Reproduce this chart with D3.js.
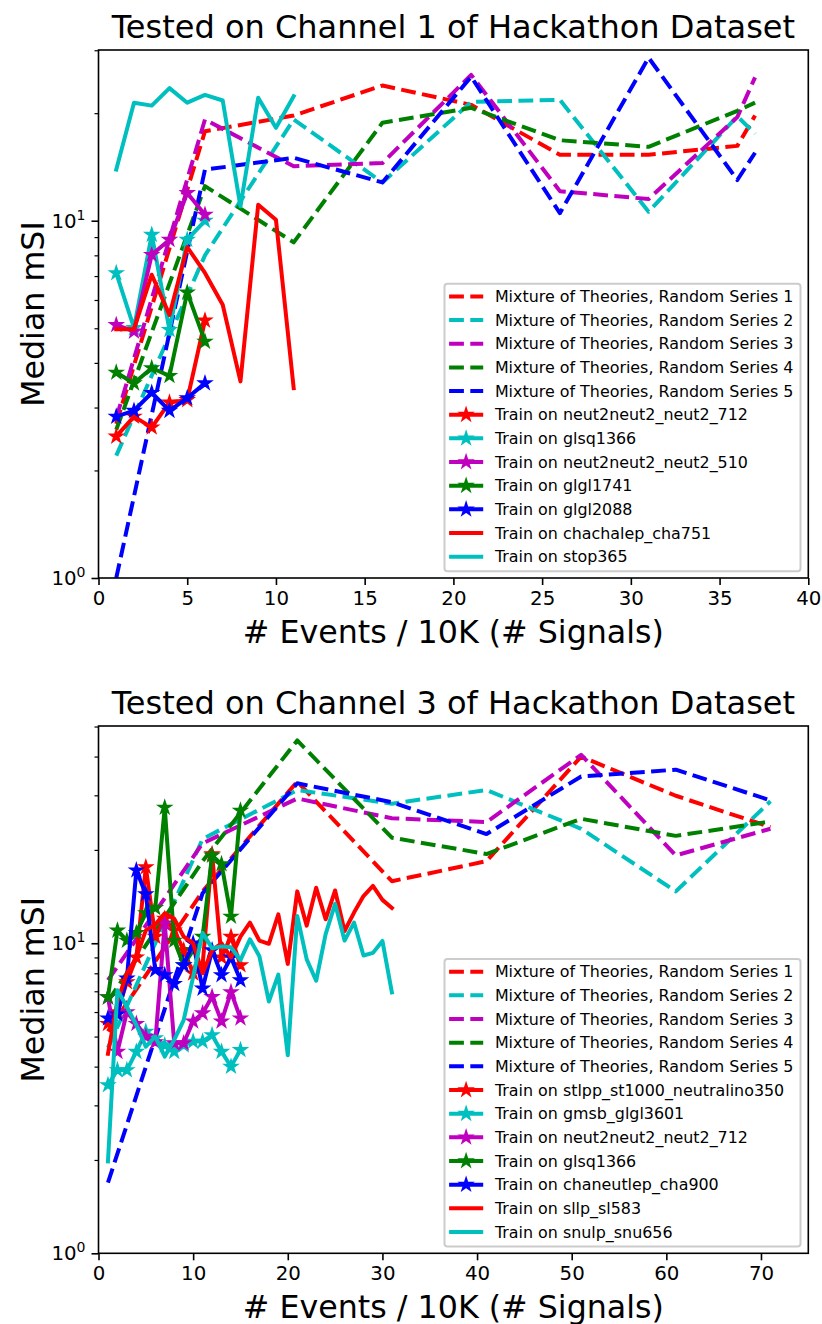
<!DOCTYPE html>
<html><head><meta charset="utf-8">
<script src="https://cdn.jsdelivr.net/npm/d3@7"></script>
<style>body{margin:0;background:#fff} svg{display:block} text{font-family:"DejaVu Sans",sans-serif;fill:#000}</style>
</head><body><svg id="c" width="822" height="1324"></svg>
<script>
// ---------------- Panel 1 data ----------------
const p1Title = "Tested on Channel 1 of Hackathon Dataset";
const p1XTicks = [0, 5, 10, 15, 20, 25, 30, 35, 40];
const p1MixX = [1, 6, 11, 16, 21, 26, 31, 36, 37];
const p1Mix1 = [2.7, 17.8, 19.7, 23.9, 21.1, 15.3, 15.3, 16.2, 19.7];
const p1Mix2 = [2.2, 8.0, 19.2, 12.8, 21.5, 21.8, 10.6, 19.6, 17.5];
const p1Mix3 = [2.8, 19.2, 14.2, 14.5, 25.6, 12.1, 11.5, 19.5, 25.2];
const p1Mix4 = [2.6, 12.5, 8.7, 18.8, 20.7, 16.8, 16.1, 20.3, 21.4];
const p1Mix5 = [1.0, 13.9, 15.0, 12.8, 25.3, 10.5, 28.6, 13.0, 15.5];
const p1StarX = [1, 2, 3, 4, 5, 6];
const p1Neut712 = [2.49, 2.83, 2.64, 3.10, 3.15, 5.26];
const p1Glsq1366 = [7.14, 5.01, 9.14, 4.95, 8.85, 10.0];
const p1Neut510 = [5.11, 4.90, 8.03, 8.85, 11.96, 10.4];
const p1Glgl1741 = [3.76, 3.51, 3.87, 3.68, 6.30, 4.59];
const p1Glgl2088 = [2.83, 2.94, 3.30, 2.94, 3.19, 3.51];
const p1SolidX = [1, 2, 3, 4, 5, 6, 7, 8, 9, 10, 11];
const p1Cha751 = [4.97, 4.97, 7.06, 5.45, 8.44, 7.14, 5.82, 3.55, 11.09, 10.06, 3.40];
const p1Stop365 = [13.9, 21.4, 21.0, 23.5, 21.4, 22.5, 21.7, 10.97, 22.1, 18.2, 22.3];

// ---------------- Panel 2 data ----------------
const p2Title = "Tested on Channel 3 of Hackathon Dataset";
const p2XTicks = [0, 10, 20, 30, 40, 50, 60, 70];
const p2MixX = [1, 11, 21, 31, 41, 51, 61, 71];
const p2Mix1 = [5.2, 14.7, 33.2, 15.85, 18.4, 40.0, 29.9, 23.7];
const p2Mix2 = [4.6, 21.7, 31.2, 28.2, 31.2, 23.4, 14.7, 28.7];
const p2Mix3 = [7.6, 21.0, 29.3, 25.3, 24.6, 40.5, 19.2, 23.4];
const p2Mix4 = [6.5, 18.4, 45.1, 21.9, 19.4, 25.2, 22.2, 24.7];
const p2Mix5 = [1.69, 14.5, 32.8, 28.5, 22.5, 34.5, 36.3, 28.9];
const p2StarX = [1, 2, 3, 4, 5, 6, 7, 8, 9, 10, 11, 12, 13, 14, 15];
const p2Stlpp = [5.5, 6.0, 7.5, 9.0, 17.6, 10.5, 12.0, 11.0, 9.5, 8.0, 8.5, 19.4, 9.0, 10.5, 8.5];
const p2Gmsb = [3.49, 3.9, 3.9, 4.47, 5.19, 4.94, 4.69, 4.47, 4.69, 4.82, 4.82, 5.06, 4.47, 4.0, 4.53];
const p2Neut712 = [6.7, 4.47, 6.0, 5.5, 5.0, 4.8, 11.6, 4.76, 4.76, 5.6, 5.95, 6.72, 5.6, 6.96, 5.73];
const p2Glsq1366 = [6.7, 11.0, 10.2, 10.8, 12.5, 13.0, 27.4, 10.2, 8.5, 9.5, 10.5, 19.2, 18.0, 12.2, 26.8];
const p2Cha900 = [5.73, 5.9, 7.7, 17.2, 14.4, 8.2, 7.9, 7.4, 8.5, 10.0, 7.15, 9.5, 7.9, 9.0, 7.6];
const p2SolidX = [1, 2, 3, 4, 5, 6, 7, 8, 9, 10, 11, 12, 13, 14, 15, 16, 17, 18, 19, 20, 21, 22, 23, 24, 25, 26, 27, 28, 29, 30, 31];
const p2Sl583 = [4.4, 6.5, 8.0, 9.0, 11.0, 11.5, 12.5, 12.0, 10.5, 10.0, 8.0, 9.5, 10.0, 9.0, 10.5, 11.66, 10.2, 9.96, 12.4, 8.58, 14.7, 11.4, 15.1, 11.95, 14.8, 10.95, 12.56, 14.2, 15.3, 13.8, 13.0];
const p2Snu656 = [1.98, 7.06, 6.24, 5.45, 4.64, 5.0, 4.31, 4.88, 5.65, 7.79, 10.8, 9.64, 9.77, 9.7, 8.82, 10.3, 9.08, 6.49, 7.92, 4.35, 12.25, 8.87, 7.57, 10.7, 13.4, 10.2, 11.66, 9.13, 9.31, 10.17, 6.94];

const C = {r: "#ff0000", c: "#00bfbf", m: "#bf00bf", g: "#008000", b: "#0000ff"};

const panels = [
  {title: p1Title, xmax: 40, xticks: p1XTicks, ymax: 30.05, top: 50, bottom: 578,
   series: [
    {name: "Mixture of Theories, Random Series 1", x: p1MixX, y: p1Mix1, color: C.r, dash: true},
    {name: "Mixture of Theories, Random Series 2", x: p1MixX, y: p1Mix2, color: C.c, dash: true},
    {name: "Mixture of Theories, Random Series 3", x: p1MixX, y: p1Mix3, color: C.m, dash: true},
    {name: "Mixture of Theories, Random Series 4", x: p1MixX, y: p1Mix4, color: C.g, dash: true},
    {name: "Mixture of Theories, Random Series 5", x: p1MixX, y: p1Mix5, color: C.b, dash: true},
    {name: "Train on neut2neut2_neut2_712", x: p1StarX, y: p1Neut712, color: C.r, star: true},
    {name: "Train on glsq1366", x: p1StarX, y: p1Glsq1366, color: C.c, star: true},
    {name: "Train on neut2neut2_neut2_510", x: p1StarX, y: p1Neut510, color: C.m, star: true},
    {name: "Train on glgl1741", x: p1StarX, y: p1Glgl1741, color: C.g, star: true},
    {name: "Train on glgl2088", x: p1StarX, y: p1Glgl2088, color: C.b, star: true},
    {name: "Train on chachalep_cha751", x: p1SolidX, y: p1Cha751, color: C.r},
    {name: "Train on stop365", x: p1SolidX, y: p1Stop365, color: C.c}
   ]},
  {title: p2Title, xmax: 75, xticks: p2XTicks, ymax: 50.2, top: 726, bottom: 1253.3,
   series: [
    {name: "Mixture of Theories, Random Series 1", x: p2MixX, y: p2Mix1, color: C.r, dash: true},
    {name: "Mixture of Theories, Random Series 2", x: p2MixX, y: p2Mix2, color: C.c, dash: true},
    {name: "Mixture of Theories, Random Series 3", x: p2MixX, y: p2Mix3, color: C.m, dash: true},
    {name: "Mixture of Theories, Random Series 4", x: p2MixX, y: p2Mix4, color: C.g, dash: true},
    {name: "Mixture of Theories, Random Series 5", x: p2MixX, y: p2Mix5, color: C.b, dash: true},
    {name: "Train on stlpp_st1000_neutralino350", x: p2StarX, y: p2Stlpp, color: C.r, star: true},
    {name: "Train on gmsb_glgl3601", x: p2StarX, y: p2Gmsb, color: C.c, star: true},
    {name: "Train on neut2neut2_neut2_712", x: p2StarX, y: p2Neut712, color: C.m, star: true},
    {name: "Train on glsq1366", x: p2StarX, y: p2Glsq1366, color: C.g, star: true},
    {name: "Train on chaneutlep_cha900", x: p2StarX, y: p2Cha900, color: C.b, star: true},
    {name: "Train on sllp_sl583", x: p2SolidX, y: p2Sl583, color: C.r},
    {name: "Train on snulp_snu656", x: p2SolidX, y: p2Snu656, color: C.c}
   ]}
];

const svg = d3.select("#c");
const LEFT = 98.5, RIGHT = 808.3;
const LW = 4, DASH = "14.8,6.4";

function starPath(R) {
  const r = R * 0.381966, pts = [];
  for (let k = 0; k < 10; k++) {
    const a = -Math.PI / 2 + k * Math.PI / 5, rr = k % 2 ? r : R;
    pts.push([rr * Math.cos(a), rr * Math.sin(a)]);
  }
  return "M" + pts.map(p => p[0].toFixed(2) + "," + p[1].toFixed(2)).join("L") + "Z";
}
const STAR = starPath(6);

panels.forEach((P, pi) => {
  const g = svg.append("g");
  const x = d3.scaleLinear().domain([0, P.xmax]).range([LEFT, RIGHT]);
  const y = d3.scaleLog().domain([1, P.ymax]).range([P.bottom, P.top]);
  const cid = "clip" + pi;
  svg.append("defs").append("clipPath").attr("id", cid).append("rect")
    .attr("x", LEFT).attr("y", P.top).attr("width", RIGHT - LEFT).attr("height", P.bottom - P.top);

  const plot = g.append("g").attr("clip-path", `url(#${cid})`);
  const line = d3.line().x(d => x(d[0])).y(d => y(d[1]));
  P.series.forEach(s => {
    const pts = s.x.map((v, i) => [v, s.y[i]]);
    plot.append("path").attr("d", line(pts)).attr("fill", "none")
      .attr("stroke", s.color).attr("stroke-width", LW)
      .attr("stroke-dasharray", s.dash ? DASH : null)
      .attr("stroke-linejoin", "round").attr("stroke-linecap", s.dash ? "butt" : "square");
    if (s.star) {
      plot.selectAll(null).data(pts).enter().append("path")
        .attr("d", STAR).attr("transform", d => `translate(${x(d[0])},${y(d[1])})`)
        .attr("fill", s.color).attr("stroke", s.color).attr("stroke-width", 2)
        .attr("stroke-linejoin", "miter");
    }
  });

  // x axis
  const xa = g.append("g").attr("transform", `translate(0,${P.bottom})`)
    .call(d3.axisBottom(x).tickValues(P.xticks).tickSize(7).tickPadding(6).tickFormat(d3.format("d")));
  xa.select(".domain").remove();
  xa.selectAll("line").attr("stroke", "#000").attr("stroke-width", 1.6);
  xa.selectAll("text").style("font-size", "19.8px").style("font-family", "DejaVu Sans");

  // y axis major
  const majors = [1, 10].filter(v => v <= P.ymax);
  const ya = g.append("g").attr("transform", `translate(${LEFT},0)`)
    .call(d3.axisLeft(y).tickValues(majors).tickSize(7).tickPadding(6).tickFormat(() => ""));
  ya.select(".domain").remove();
  ya.selectAll("line").attr("stroke", "#000").attr("stroke-width", 1.6);
  ya.selectAll(".tick text").each(function (d) {
    const t = d3.select(this).text("").style("font-size", "19.8px").style("font-family", "DejaVu Sans");
    t.append("tspan").text("10");
    t.append("tspan").text(Math.round(Math.log10(d))).style("font-size", "14px").attr("dy", "-8");
  });
  // minor ticks
  const minors = [];
  for (let dec = 1; dec <= 10; dec *= 10)
    for (let m = 2; m <= 9; m++) if (m * dec <= P.ymax) minors.push(m * dec);
  const ym = g.append("g").attr("transform", `translate(${LEFT},0)`)
    .call(d3.axisLeft(y).tickValues(minors).tickSize(4).tickFormat(() => ""));
  ym.select(".domain").remove();
  ym.selectAll("line").attr("stroke", "#000").attr("stroke-width", 1.2);

  // frame
  g.append("rect").attr("x", LEFT).attr("y", P.top).attr("width", RIGHT - LEFT).attr("height", P.bottom - P.top)
    .attr("fill", "none").attr("stroke", "#000").attr("stroke-width", 1.6);

  // title and labels
  g.append("text").attr("x", (LEFT + RIGHT) / 2).attr("y", P.top - 12).attr("text-anchor", "middle")
    .style("font-size", "32px").text(P.title);
  g.append("text").attr("x", (LEFT + RIGHT) / 2).attr("y", P.bottom + 65).attr("text-anchor", "middle")
    .style("font-size", "31.7px").text("# Events / 10K (# Signals)");
  g.append("text").attr("transform", `translate(44,${(P.top + P.bottom) / 2}) rotate(-90)`)
    .attr("text-anchor", "middle").style("font-size", "31.7px").text("Median mSI");

  // legend
  const lw = 356, lh = 287.6;
  const lx = RIGHT - 7.8 - lw, ly = P.bottom - 6.7 - lh;
  const lg = g.append("g");
  lg.append("rect").attr("x", lx).attr("y", ly).attr("width", lw).attr("height", lh)
    .attr("rx", 3).attr("fill", "#fff").attr("fill-opacity", 0.8)
    .attr("stroke", "#cccccc").attr("stroke-width", 2);
  P.series.forEach((s, i) => {
    const cy = ly + 12.7 + i * 23.66;
    lg.append("line").attr("x1", lx + 4.6).attr("x2", lx + 38.7).attr("y1", cy).attr("y2", cy)
      .attr("stroke", s.color).attr("stroke-width", LW).attr("stroke-dasharray", s.dash ? DASH : null);
    if (s.star) lg.append("path").attr("d", STAR).attr("transform", `translate(${lx + 21.6},${cy})`)
      .attr("fill", s.color).attr("stroke", s.color).attr("stroke-width", 2);
    lg.append("text").attr("x", lx + 50.4).attr("y", cy).attr("dy", "0.35em")
      .style("font-size", "15.9px").text(s.name);
  });
});
</script></body></html>
